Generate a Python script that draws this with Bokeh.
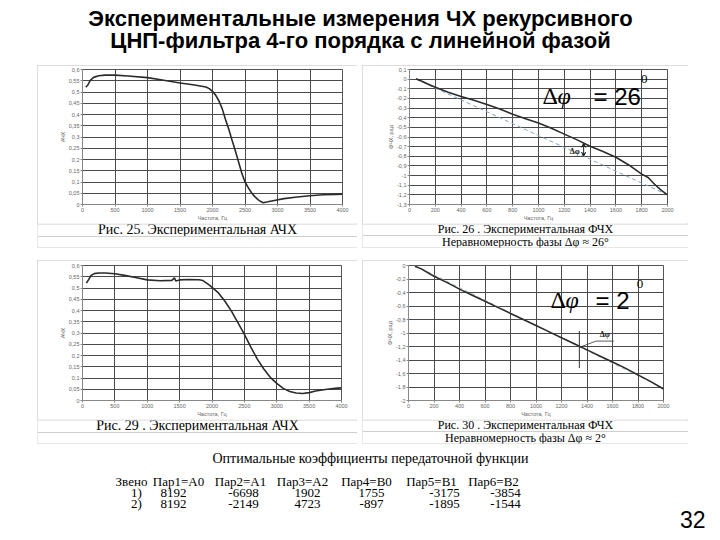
from bokeh.plotting import figure
from bokeh.layouts import column, row
from bokeh.models import Range1d, FixedTicker, Spacer, Arrow, VeeHead, Label, Span
from bokeh.core.properties import value
from bokeh.embed import file_html
from bokeh.resources import INLINE

# ---------------- data ----------------
title_lines = ["Экспериментальные измерения ЧХ рекурсивного",
               "ЦНП-фильтра 4-го порядка с линейной фазой"]

# Fig. 25: amplitude response, filter 1
f1 = [50, 80, 120, 170, 250, 350, 500, 700, 1000, 1250, 1500, 1700, 1900, 1950, 2000,
      2050, 2100, 2150, 2200, 2250, 2300, 2350, 2400, 2450, 2500, 2550, 2600, 2650, 2700,
      2750, 2780, 2850, 2950, 3100, 3300, 3500, 3700, 3900, 4000]
a1 = [0.522, 0.530, 0.552, 0.565, 0.572, 0.575, 0.575, 0.571, 0.564, 0.552, 0.540, 0.532,
      0.522, 0.515, 0.503, 0.485, 0.460, 0.425, 0.378, 0.335, 0.287, 0.240, 0.190, 0.140,
      0.100, 0.075, 0.052, 0.035, 0.022, 0.012, 0.008, 0.012, 0.018, 0.026, 0.033, 0.039,
      0.043, 0.045, 0.046]

# Fig. 26: phase response, filter 1
f2 = [50, 100, 150, 200, 300, 400, 500, 600, 700, 800, 900, 1000, 1100, 1200, 1300, 1400,
      1500, 1600, 1700, 1800, 1850, 1900, 1950, 2000]
ph2 = [0.005, -0.025, -0.055, -0.085, -0.135, -0.18, -0.22, -0.262, -0.31, -0.365, -0.41,
       -0.455, -0.51, -0.57, -0.63, -0.695, -0.75, -0.81, -0.89, -0.985, -1.02, -1.09,
       -1.15, -1.2]
ideal_f2 = [50, 2000]
ideal_ph2 = [0.0, -1.2]

# Fig. 29: amplitude response, filter 2
f3 = [60, 90, 130, 180, 250, 350, 500, 650, 800, 1000, 1200, 1380, 1420, 1440, 1500, 1650,
      1800, 1860, 1950, 2000, 2100, 2200, 2300, 2400, 2500, 2600, 2700, 2800, 2900, 3000,
      3100, 3200, 3300, 3400, 3500, 3600, 3750, 3900, 4000]
a3 = [0.522, 0.535, 0.555, 0.564, 0.567, 0.567, 0.563, 0.556, 0.548, 0.536, 0.532, 0.534,
      0.545, 0.531, 0.536, 0.538, 0.537, 0.533, 0.515, 0.503, 0.478, 0.441, 0.397, 0.346,
      0.294, 0.237, 0.184, 0.140, 0.103, 0.076, 0.054, 0.040, 0.033, 0.031, 0.035, 0.042,
      0.049, 0.054, 0.056]

# Fig. 30: phase response, filter 2
f4 = [50, 100, 200, 300, 400, 500, 600, 700, 800, 900, 1000, 1100, 1200, 1300, 1400, 1500,
      1600, 1700, 1800, 1900, 2000]
ph4 = [-0.01, -0.05, -0.16, -0.25, -0.35, -0.44, -0.53, -0.62, -0.71, -0.80, -0.89, -0.98,
       -1.07, -1.16, -1.25, -1.34, -1.43, -1.52, -1.62, -1.72, -1.83]
ideal_f4 = [50, 2000]
ideal_ph4 = [0.0, -1.82]

# ticks
x_ticks_a = [0, 500, 1000, 1500, 2000, 2500, 3000, 3500, 4000]
x_ticks_p = [0, 200, 400, 600, 800, 1000, 1200, 1400, 1600, 1800, 2000]
y_ticks_a = [0, 0.05, 0.1, 0.15, 0.2, 0.25, 0.3, 0.35, 0.4, 0.45, 0.5, 0.55, 0.6]
y_labels_a = ["0", "0,05", "0,1", "0,15", "0,2", "0,25", "0,3", "0,35", "0,4", "0,45",
              "0,5", "0,55", "0,6"]
y_ticks_p1 = [0.1, 0, -0.1, -0.2, -0.3, -0.4, -0.5, -0.6, -0.7, -0.8, -0.9, -1, -1.1,
              -1.2, -1.3]
y_labels_p1 = ["0,1", "0", "-0,1", "-0,2", "-0,3", "-0,4", "-0,5", "-0,6", "-0,7", "-0,8",
               "-0,9", "-1", "-1,1", "-1,2", "-1,3"]
y_ticks_p2 = [0, -0.2, -0.4, -0.6, -0.8, -1, -1.2, -1.4, -1.6, -1.8, -2]
y_labels_p2 = ["0", "-0,2", "-0,4", "-0,6", "-0,8", "-1", "-1,2", "-1,4", "-1,6", "-1,8", "-2"]

captions1 = ["Рис. 25. Экспериментальная АЧХ"]
captions2 = ["Рис. 26 . Экспериментальная ФЧХ", "Неравномерность фазы Δφ ≈ 26°"]
captions3 = ["Рис. 29 . Экспериментальная АЧХ"]
captions4 = ["Рис. 30 . Экспериментальная ФЧХ", "Неравномерность фазы Δφ ≈ 2°"]

table_title = "Оптимальные коэффициенты передаточной функции"
table_header = ["Звено", "Пар1=А0", "Пар2=А1", "Пар3=А2", "Пар4=В0", "Пар5=В1", "Пар6=В2"]
row1 = ["1)", "8192", "-6698", "1902", "1755", "-3175", "-3854"]
row2 = ["2)", "8192", "-2149", "4723", "-897", "-1895", "-1544"]
slide_number = "32"

SERIF = "Liberation Serif"
SANS = "Liberation Sans"
PANEL = {"outline": "1px solid #d2d2d2", "outline-offset": "-1px"}


def chart(w, h, xr, yr, xt, yt, yl, ylab, borders):
    p = figure(width=w, height=h, x_range=Range1d(*xr), y_range=Range1d(*yr),
               output_backend="svg", toolbar_location=None,
               min_border_left=borders[0], min_border_right=borders[1],
               min_border_top=borders[2], min_border_bottom=borders[3])
    p.xaxis.ticker = FixedTicker(ticks=xt)
    p.yaxis.ticker = FixedTicker(ticks=yt)
    p.yaxis.major_label_overrides = {t: l for t, l in zip(yt, yl)}
    p.xaxis.axis_label = "Частота, Гц"
    p.yaxis.axis_label = ylab
    for ax in (p.xaxis, p.yaxis):
        ax.axis_line_color = "#888888"
        ax.major_tick_line_color = "#888888"
        ax.major_tick_out = 2
        ax.major_tick_in = 0
        ax.minor_tick_line_color = None
        ax.major_label_text_font = SANS
        ax.major_label_text_font_size = "5.5px"
        ax.major_label_text_color = "#666666"
        ax.major_label_standoff = 1
        ax.axis_label_text_font = SANS
        ax.axis_label_text_font_size = "5.5px"
        ax.axis_label_text_font_style = "normal"
        ax.axis_label_text_color = "#666666"
        ax.axis_label_standoff = 0
    p.grid.grid_line_color = "#4a4a4a"
    p.grid.grid_line_width = 1
    p.outline_line_color = "#555555"
    p.background_fill_color = "white"
    p.border_fill_color = "white"
    return p


def caption_box(w, h, texts, text_y, rules, size):
    c = figure(width=w, height=h, x_range=Range1d(0, w), y_range=Range1d(h, 0),
               output_backend="svg", toolbar_location=None, min_border=0,
               x_axis_location=None, y_axis_location=None, frame_align=False)
    c.grid.visible = False
    c.outline_line_color = None
    c.text(x=[w / 2] * len(texts), y=text_y, text=texts, text_align="center",
           text_baseline="middle", text_font=value(SERIF), text_font_size=value(size),
           text_color="black")
    for r in rules:
        c.add_layout(Span(location=r, dimension="width", line_color="#cfcfcf", line_width=1))
    return c


p1 = chart(320, 158, (0, 4000), (0, 0.6), x_ticks_a, y_ticks_a, y_labels_a, "АЧХ",
           (45, 15, 4, 18))
p1.line(f1, a1, line_color="#2b2b2b", line_width=1.6)
c1 = caption_box(320, 25, captions1, [6], [0.5, 13, 24.5], "14px")

p2 = chart(326, 158, (0, 2000), (-1.3, 0.1), x_ticks_p, y_ticks_p1, y_labels_p1, "ФЧХ, рад",
           (47, 21, 4, 18))
p2.line(ideal_f2, ideal_ph2, line_color="#7fa3b8", line_width=1, line_dash="4 3")
p2.line(f2, ph2, line_color="#2b2b2b", line_width=1.6)
p2.add_layout(Arrow(start=VeeHead(size=4, line_color="#222222", line_width=1),
                    end=VeeHead(size=4, line_color="#222222", line_width=1),
                    x_start=1350, y_start=-0.665, x_end=1350, y_end=-0.80,
                    line_color="#222222", line_width=1))
p2.add_layout(Label(x=1320, y=-0.755, text="Δφ", text_align="right", text_baseline="middle",
                    text_font=SERIF, text_font_size="8px", text_font_style="bold",
                    text_color="#222222"))
p2.add_layout(Label(x=1031, y=-0.178, text="Δ", text_align="left", text_baseline="alphabetic",
                    text_font=SERIF, text_font_size="24px", text_color="black"))
p2.add_layout(Label(x=1147, y=-0.178, text="φ", text_align="left", text_baseline="alphabetic",
                    text_font=SERIF, text_font_size="24px", text_font_style="italic",
                    text_color="black"))
p2.add_layout(Label(x=1426, y=-0.178, text="= 26", text_align="left",
                    text_baseline="alphabetic", text_font=SANS, text_font_size="24px",
                    text_color="black"))
p2.add_layout(Label(x=1795, y=0.005, text="0", text_align="left", text_baseline="alphabetic",
                    text_font=SERIF, text_font_size="13px", text_color="black"))
c2 = caption_box(326, 25, captions2, [5.5, 18], [0.5, 12, 24.5], "12px")

p3 = chart(320, 159, (0, 4000), (0, 0.6), x_ticks_a, y_ticks_a, y_labels_a, "АЧХ",
           (45, 16, 5, 18))
p3.line(f3, a3, line_color="#2b2b2b", line_width=1.6)
c3 = caption_box(320, 25, captions3, [6], [0.5, 13, 24.5], "14px")

p4 = chart(326, 159, (0, 2000), (-2, 0), x_ticks_p, y_ticks_p2, y_labels_p2, "ФЧХ, рад",
           (46, 25, 5, 18))
p4.line(ideal_f4, ideal_ph4, line_color="#a9bcc6", line_width=1, line_dash="4 3")
p4.line(f4, ph4, line_color="#2b2b2b", line_width=1.6)
p4.segment(x0=[1340], y0=[-0.97], x1=[1340], y1=[-1.52], line_color="#333333", line_width=1)
p4.line([1345, 1470, 1610], [-1.21, -1.12, -1.12], line_color="#333333", line_width=0.8)
p4.add_layout(Label(x=1540, y=-1.09, text="Δφ", text_align="center", text_baseline="bottom",
                    text_font=SERIF, text_font_size="8px", text_font_style="bold",
                    text_color="#222222"))
p4.add_layout(Label(x=1114, y=-0.515, text="Δ", text_align="left", text_baseline="alphabetic",
                    text_font=SERIF, text_font_size="24px", text_color="black"))
p4.add_layout(Label(x=1231, y=-0.515, text="φ", text_align="left", text_baseline="alphabetic",
                    text_font=SERIF, text_font_size="24px", text_font_style="italic",
                    text_color="black"))
p4.add_layout(Label(x=1467, y=-0.515, text="= 2", text_align="left",
                    text_baseline="alphabetic", text_font=SANS, text_font_size="24px",
                    text_color="black"))
p4.add_layout(Label(x=1790, y=-0.28, text="0", text_align="left", text_baseline="alphabetic",
                    text_font=SERIF, text_font_size="13px", text_color="black"))
c4 = caption_box(326, 25, captions4, [5.5, 18], [0.5, 12, 24.5], "12px")

# title figure: data coords == page coords
tf = figure(width=712, height=62, x_range=Range1d(0, 712), y_range=Range1d(62, 0),
            output_backend="svg", toolbar_location=None, min_border=0,
            x_axis_location=None, y_axis_location=None, frame_align=False)
tf.grid.visible = False
tf.outline_line_color = None
tf.text(x=[360, 360], y=[18, 40], text=title_lines, text_align="center",
        text_baseline="middle", text_font=value(SANS), text_font_style="bold",
        text_font_size=value("22px"), text_color="black")

# bottom figure with coefficient table (data coords == page coords)
bf = figure(width=712, height=92, x_range=Range1d(0, 712), y_range=Range1d(536, 444),
            output_backend="svg", toolbar_location=None, min_border=0,
            x_axis_location=None, y_axis_location=None, frame_align=False)
bf.grid.visible = False
bf.outline_line_color = None
col_x = [131, 178, 240, 302, 366, 431, 493]
val_x = [136, 173, 243, 307, 371, 444, 505]
bf.text(x=[370], y=[458], text=[table_title], text_align="center", text_baseline="middle",
        text_font=value(SERIF), text_font_size=value("14px"), text_color="black")
bf.text(x=col_x, y=[481] * len(table_header), text=table_header, text_align="center",
        text_baseline="middle", text_font=value(SERIF), text_font_size=value("13px"),
        text_color="black")
bf.text(x=val_x, y=[492] * len(row1), text=row1, text_align="center",
        text_baseline="middle", text_font=value(SERIF), text_font_size=value("13px"),
        text_color="black")
bf.text(x=val_x, y=[503] * len(row2), text=row2, text_align="center",
        text_baseline="middle", text_font=value(SERIF), text_font_size=value("13px"),
        text_color="black")
bf.text(x=[705], y=[519], text=[slide_number], text_align="right", text_baseline="middle",
        text_font=value(SANS), text_font_size=value("23px"), text_color="black")

layout = column(
    tf,
    Spacer(height=3),
    row(Spacer(width=37), column(p1, c1, styles=PANEL), Spacer(width=5),
        column(p2, c2, styles=PANEL)),
    Spacer(height=12),
    row(Spacer(width=37), column(p3, c3, styles=PANEL), Spacer(width=5),
        column(p4, c4, styles=PANEL)),
    bf,
)

open("out.html", "w").write(file_html(layout, INLINE))
